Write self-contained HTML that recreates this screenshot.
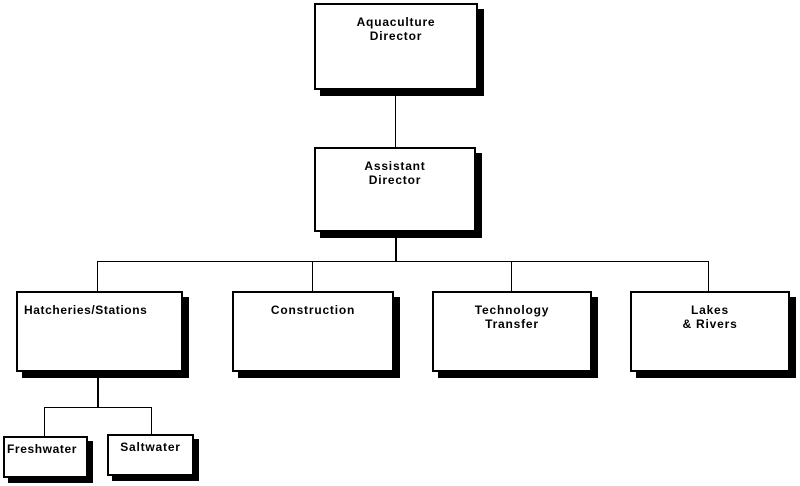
<!DOCTYPE html>
<html><head><style>
body{margin:0;width:800px;height:486px;background:#fff;position:relative;overflow:hidden;font-family:"Liberation Sans",Arial,sans-serif}
.b{position:absolute;border:2px solid #000;background:#fff;box-shadow:6px 6px 0 #000;box-sizing:border-box;font-weight:bold;font-size:12px;text-align:center;line-height:14px;padding-top:10px;letter-spacing:0.8px}
.l{position:absolute;background:#000}
</style></head><body>
<div class="l" style="left:395px;top:90px;width:1px;height:58px"></div>
<div class="l" style="left:395px;top:232px;width:2px;height:30px"></div>
<div class="l" style="left:97px;top:261px;width:612px;height:1px"></div>
<div class="l" style="left:97px;top:261px;width:1px;height:31px"></div>
<div class="l" style="left:312px;top:261px;width:1px;height:31px"></div>
<div class="l" style="left:511px;top:261px;width:1px;height:31px"></div>
<div class="l" style="left:708px;top:261px;width:1px;height:31px"></div>
<div class="l" style="left:97px;top:372px;width:2px;height:36px"></div>
<div class="l" style="left:44px;top:407px;width:108px;height:1px"></div>
<div class="l" style="left:44px;top:407px;width:1px;height:30px"></div>
<div class="l" style="left:151px;top:407px;width:1px;height:28px"></div>

<div class="b" style="left:314px;top:3px;width:164px;height:87px">Aquaculture<br>Director</div>
<div class="b" style="left:314px;top:147px;width:162px;height:85px">Assistant<br>Director</div>
<div class="b" style="left:16px;top:291px;width:167px;height:81px;text-align:left;padding-left:6px;letter-spacing:0.6px">Hatcheries/Stations</div>
<div class="b" style="left:232px;top:291px;width:162px;height:81px">Construction</div>
<div class="b" style="left:432px;top:291px;width:160px;height:81px">Technology<br>Transfer</div>
<div class="b" style="left:630px;top:291px;width:160px;height:81px">Lakes<br>&amp; Rivers</div>
<div class="b" style="left:3px;top:436px;width:85px;height:42px;padding-top:4px;text-align:left;padding-left:2px;letter-spacing:0.6px;box-shadow:5px 5px 0 #000">Freshwater</div>
<div class="b" style="left:107px;top:434px;width:87px;height:42px;padding-top:4px;box-shadow:5px 5px 0 #000">Saltwater</div>
</body></html>
